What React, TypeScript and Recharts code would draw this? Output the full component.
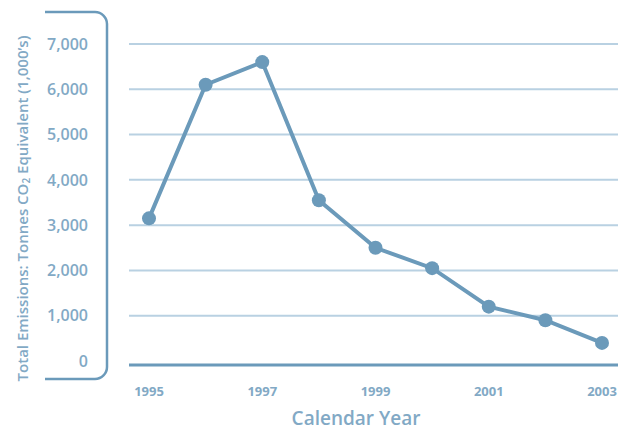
import { LineChart, Line, XAxis, YAxis, CartesianGrid } from "recharts";

const years = ["1995", "1996", "1997", "1998", "1999", "2000", "2001", "2002", "2003"];
const emissions = [3150, 6100, 6600, 3550, 2500, 2050, 1200, 900, 400];
const yTicks = [0, 1000, 2000, 3000, 4000, 5000, 6000, 7000];
const gridValues = [1000, 2000, 3000, 4000, 5000, 6000, 7000];
const xTicks = ["1995", "1997", "1999", "2001", "2003"];

const data = years.map((year, i) => ({ year, emissions: emissions[i] }));

const LINE = "#6b9aba";
const TEXT = "#82a9c5";
const GRID = "#b9d1e2";
const FONT = "'Open Sans', sans-serif";

function YTitle({ viewBox }: any) {
  const cx = 22;
  const cy = viewBox.y + viewBox.height / 2 + 4;
  return (
    <text
      x={cx}
      y={cy}
      transform={`rotate(-90, ${cx}, ${cy})`}
      textAnchor="middle"
      dominantBaseline="central"
      fill={TEXT}
      fontFamily={FONT}
      fontSize={15}
      fontWeight={600}
    >
      Total Emissions: Tonnes CO
      <tspan fontSize={10} dy={4}>2</tspan>
      <tspan dy={-4}> Equivalent (1,000’s)</tspan>
    </text>
  );
}

function XTitle({ viewBox }: any) {
  return (
    <text
      x={356}
      y={viewBox.y + 53}
      textAnchor="middle"
      dominantBaseline="central"
      fill={TEXT}
      fontFamily={FONT}
      fontSize={19}
      fontWeight={600}
    >
      Calendar Year
    </text>
  );
}

export default function App() {
  return (
    <div style={{ position: "absolute", left: 0, top: 0, width: 626, height: 432, background: "#fff" }}>
      <svg width={626} height={432} style={{ position: "absolute", left: 0, top: 0 }}>
        <path
          d="M45 12 H95 A12 12 0 0 1 107 24 V367 A12 12 0 0 1 95 379 H45"
          fill="none"
          stroke={LINE}
          strokeWidth={2.5}
        />
      </svg>
      <div style={{ position: "absolute", left: 0, top: 0 }}>
        <LineChart width={626} height={432} data={data} margin={{ top: 44, right: 8, bottom: 0, left: 49 }}>
          <CartesianGrid horizontal vertical={false} horizontalValues={gridValues} stroke={GRID} strokeWidth={2} />
          <XAxis
            dataKey="year"
            ticks={xTicks}
            interval={0}
            padding={{ left: 20, right: 16 }}
            axisLine={{ stroke: LINE, strokeWidth: 3 }}
            tickLine={false}
            tickMargin={16}
            tick={{ fill: TEXT, fontSize: 13, fontWeight: 700, fontFamily: FONT }}
            height={67}
            label={<XTitle />}
          />
          <YAxis
            domain={[-88, 7000]}
            ticks={yTicks}
            width={80}
            axisLine={false}
            tickLine={false}
            tickSize={0}
            tickMargin={41}
            tickFormatter={(v: number) => v.toLocaleString("en-US")}
            tick={{ fill: TEXT, fontSize: 16, fontWeight: 600, fontFamily: FONT }}
            label={<YTitle />}
          />
          <Line
            type="linear"
            dataKey="emissions"
            stroke={LINE}
            strokeWidth={4}
            dot={{ r: 7, fill: LINE, stroke: LINE, strokeWidth: 0 }}
            activeDot={false}
            isAnimationActive={false}
          />
        </LineChart>
      </div>
    </div>
  );
}
